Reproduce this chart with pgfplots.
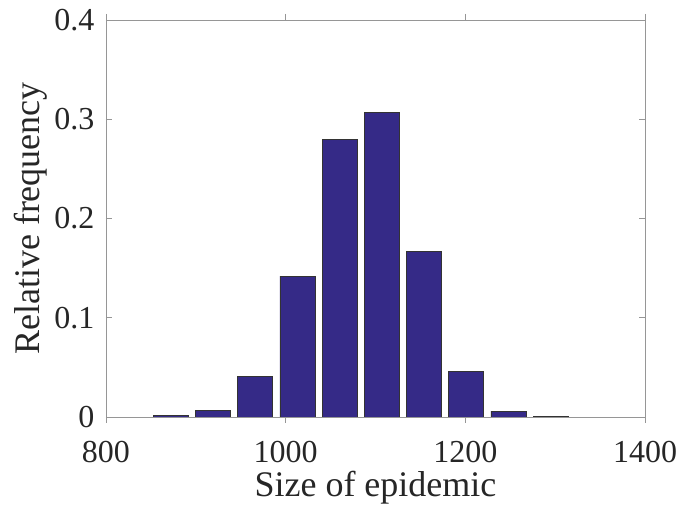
\documentclass[border=0pt]{standalone}
\usepackage{pgfplots}
\pgfplotsset{compat=1.18}
\usepackage{fontspec}
\setmainfont{Liberation Serif}
\definecolor{barblue}{RGB}{53,42,135}
\definecolor{axgray}{RGB}{150,150,150}
\definecolor{txtgray}{RGB}{38,38,38}
\begin{document}
\begin{tikzpicture}
\begin{axis}[
  width=539pt, height=397pt, scale only axis,
  xmin=800, xmax=1400, ymin=0, ymax=0.4,
  xtick={800,1000,1200,1400},
  xticklabels={\textrm{800},\textrm{1000},\textrm{1200},\textrm{1400}},
  ytick={0,0.1,0.2,0.3,0.4},
  yticklabels={\textrm{0},\textrm{0.1},\textrm{0.2},\textrm{0.3},\textrm{0.4}},
  tick align=inside,
  major tick length=6pt,
  axis line style={axgray, line width=0.8pt},
  tick style={axgray, line width=0.8pt},
  ticklabel style={font=\fontsize{32}{34}\selectfont, text=txtgray},
  xticklabel style={yshift=-15pt},
  yticklabel style={xshift=-8pt},
  xlabel={Size of epidemic},
  ylabel={Relative frequency},
  label style={font=\fontsize{36}{40}\selectfont, text=txtgray},
  xlabel style={yshift=-1pt},
  ylabel style={yshift=0pt},
  ybar, bar width=39,
  bar shift=0pt,
]
\addplot[fill=barblue, draw=black!80, line width=0.6pt] coordinates {
  (872,0.0018) (919,0.0068) (966,0.0410) (1013,0.1420) (1060,0.2800)
  (1107,0.3065) (1154,0.1670) (1201,0.0460) (1248,0.0058) (1295,0.0008)
};
\end{axis}
\path (current axis.south west) ++(-106pt,-96pt) (current axis.north east) ++(38pt,20pt);
\end{tikzpicture}
\end{document}
